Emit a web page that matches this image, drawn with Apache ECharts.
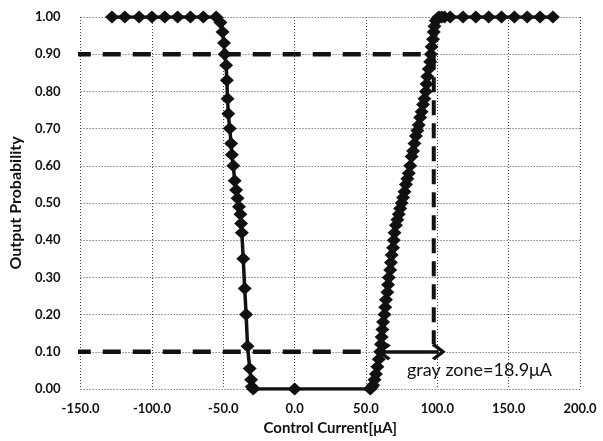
<!DOCTYPE html>
<html>
<head>
<meta charset="utf-8">
<script src="https://cdn.jsdelivr.net/npm/echarts@6/dist/echarts.min.js"></script>
<style>
  html, body { margin: 0; padding: 0; background: #fff; }
  #main { width: 603px; height: 441px; }
</style>
</head>
<body>
<div id="main"></div>
<script>
// measured curve: control current (uA) and output probability
const controlCurrent = [
  -128, -119, -109, -100, -91, -82, -73, -64, -55,
  -52, -50.5, -49.5, -49, -48, -47.5, -47, -46.5, -45.5, -44.5, -44, -43, -42, -41, -40,
  -39, -38, -37.5, -37, -36, -35, -34, -33, -31.5, -30.5, -30, -29,
  0,
  53, 54, 55, 56, 57, 58, 59, 60, 60.5, 61, 61.5, 62, 63, 63.5, 64, 65, 65.5, 66, 67, 67.5,
  68, 69, 69.5, 70, 71, 72, 73, 74, 75, 76, 77, 78, 79, 80, 81, 82, 83, 84, 85, 86, 87,
  88, 89, 90, 91, 92, 92.5, 93, 94, 95, 95.5, 96, 97, 97.5, 98, 99, 100, 101, 103, 105,
  109, 118, 127, 136, 145, 154, 163, 172, 181
];
const outputProb = [
  1.00, 1.00, 1.00, 1.00, 1.00, 1.00, 1.00, 1.00, 1.00,
  0.985, 0.96, 0.93, 0.90, 0.87, 0.83, 0.78, 0.74, 0.70, 0.66, 0.63, 0.60, 0.56, 0.535, 0.513,
  0.49, 0.47, 0.445, 0.42, 0.35, 0.27, 0.20, 0.115, 0.055, 0.025, 0.006, 0.00,
  0.00,
  0.00, 0.005, 0.01, 0.025, 0.04, 0.06, 0.08, 0.10, 0.12, 0.14, 0.16, 0.18, 0.20, 0.22, 0.24, 0.26, 0.28, 0.30, 0.32, 0.34,
  0.36, 0.38, 0.40, 0.42, 0.44, 0.455, 0.47, 0.485, 0.50, 0.515, 0.53, 0.55, 0.565, 0.58, 0.60, 0.625, 0.64, 0.66, 0.68, 0.695, 0.71,
  0.73, 0.745, 0.765, 0.78, 0.80, 0.82, 0.84, 0.86, 0.88, 0.90, 0.92, 0.94, 0.96, 0.975, 0.99, 0.995, 1.00, 1.00, 1.00,
  1.00, 1.00, 1.00, 1.00, 1.00, 1.00, 1.00, 1.00, 1.00
];

// gray zone guides
const lowLevel = 0.1;
const highLevel = 0.9;
const guideStart = -155.5;
const lowGuideEnd = 50;
const grayZoneEdge = 97.5;
const arrowFrom = 62.5;
const arrowTo = 101;
const grayZoneText = 'gray zone=18.9μA';

const curveData = controlCurrent.map((x, i) => [x, outputProb[i]]);

const chart = echarts.init(document.getElementById('main'));
const gridLine = { show: true, lineStyle: { color: '#444', type: [1, 2], width: 1 } };
const tickFont = { fontFamily: 'Lato', fontWeight: 'bold', fontSize: 13, color: '#111' };
const titleFont = { fontFamily: 'Lato', fontWeight: 'bold', fontSize: 15, color: '#111' };
const chevron = 'path://M0,0 L10,9 L7.5,11.5 L0,4.5 L-7.5,11.5 L-10,9 Z';

const option = {
  animation: false,
  grid: { left: 76, right: 23, top: 17, bottom: 48 },
  xAxis: {
    type: 'value', min: -150, max: 200, interval: 50,
    name: 'Control Current[μA]', nameLocation: 'middle', nameGap: 32,
    nameTextStyle: titleFont,
    axisLine: { show: false }, axisTick: { show: false },
    axisLabel: Object.assign({ margin: 13, formatter: v => v.toFixed(1) }, tickFont),
    splitLine: gridLine
  },
  yAxis: {
    type: 'value', min: 0, max: 1, interval: 0.1,
    name: 'Output Probability', nameLocation: 'middle', nameGap: 34,
    nameTextStyle: Object.assign({}, titleFont, { fontSize: 16 }),
    axisLine: { show: false }, axisTick: { show: false },
    axisLabel: Object.assign({ margin: 20, formatter: v => v.toFixed(2) }, tickFont),
    splitLine: gridLine
  },
  series: [
    {
      type: 'line', clip: false, symbol: 'none',
      data: [[guideStart, highLevel], [grayZoneEdge, highLevel]],
      lineStyle: { color: '#111', width: 4.5, type: [18, 12] }
    },
    {
      type: 'line', clip: false, symbol: 'none',
      data: [[guideStart, lowLevel], [lowGuideEnd, lowLevel]],
      lineStyle: { color: '#111', width: 4.5, type: [18, 12] }
    },
    {
      type: 'line', clip: false, symbol: 'none',
      data: [[grayZoneEdge, highLevel], [grayZoneEdge, lowLevel + 0.02]],
      lineStyle: { color: '#111', width: 4, type: [15, 8] }
    },
    {
      type: 'line', symbol: 'diamond', symbolSize: [14, 13],
      data: curveData,
      itemStyle: { color: '#111' },
      lineStyle: { color: '#111', width: 3.5 }
    },
    {
      type: 'line', symbol: 'none', data: [], z: 10,
      markLine: {
        silent: true, z: 10,
        symbol: [chevron, chevron], symbolSize: [17, 14],
        label: { show: false },
        lineStyle: { color: '#111', width: 3.5, type: 'solid' },
        data: [[{ coord: [arrowFrom, lowLevel] }, { coord: [arrowTo, lowLevel] }]]
      }
    }
  ],
  graphic: [{
    type: 'text', left: 407, top: 361,
    style: { text: grayZoneText, fontFamily: 'Lato', fontSize: 18, fill: '#111' }
  }]
};
chart.setOption(option);
</script>
</body>
</html>
